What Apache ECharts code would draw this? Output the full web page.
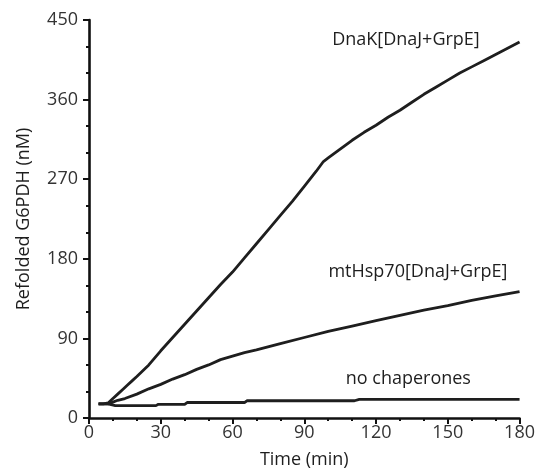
<!DOCTYPE html>
<html>
<head>
<meta charset="utf-8">
<script src="https://cdn.jsdelivr.net/npm/echarts@6/dist/echarts.min.js"></script>
<style>html,body{margin:0;padding:0;background:#fff}#c{width:538px;height:474px}</style>
</head>
<body>
<div id="c"></div>
<script>
// Time (min) and refolded G6PDH (nM) for each condition
const dnakTime = [4,6,8,10,12,14,16,18,20,25,30,35,40,45,50,55,60,65,70,75,80,85,90,95,98,100,105,110,115,120,125,130,135,140,145,150,155,160,165,170,175,180];
const dnakValues = [16,16,17,22,27,32,37,42,47,60,76,91,106,121,136,151,165,181,197,213,229,245,262,279,290,294,304,314,323,331,340,348,357,366,374,382,390,397,404,411,418,425];

const mtHspTime = [4,6,8,10,12,15,20,25,30,35,40,45,50,55,60,65,70,80,90,100,110,120,130,140,150,160,170,180];
const mtHspValues = [16,16,16,18,20,22,27,33,38,44,49,55,60,66,70,74,77,84,91,98,104,110,116,122,127,133,138,143];

const noChapTime = [4,8,11,28,29,40,41,65,66,111,113,180];
const noChapValues = [16,16,14,14,15.5,15.5,17.5,17.5,19.5,19.5,21,21];

const seriesNames = ['DnaK[DnaJ+GrpE]', 'mtHsp70[DnaJ+GrpE]', 'no chaperones'];
// label anchor positions in data units
const labelTime = [132.5, 137.5, 133.5];
const labelValue = [427, 165, 44];

const xTicks = {min: 0, max: 180, interval: 30};
const yTicks = {min: 0, max: 450, interval: 90};

const font = 'Open Sans';
const ink = '#1e1e1e';

function pairs(t, v){ return t.map((x,i)=>[x, v[i]]); }

function mk(name, t, v, idx){
  return {
    name: name,
    type: 'line',
    data: pairs(t, v),
    showSymbol: false,
    smooth: false,
    lineStyle: {color: ink, width: 2.8},
    z: 3,
    markPoint: {
      symbol: 'circle',
      symbolSize: 1,
      itemStyle: {color: 'rgba(0,0,0,0)'},
      label: {show: true, position: 'inside', formatter: name, color: ink, fontSize: 18, fontFamily: font},
      data: [{coord: [labelTime[idx], labelValue[idx]]}]
    }
  };
}

const chart = echarts.init(document.getElementById('c'), null, {renderer: 'canvas'});
chart.setOption({
  animation: false,
  backgroundColor: '#fff',
  grid: {left: 89, right: 18, top: 20, bottom: 54},
  xAxis: {
    type: 'value',
    min: xTicks.min, max: xTicks.max, interval: xTicks.interval,
    name: 'Time (min)', nameLocation: 'middle', nameGap: 33,
    nameTextStyle: {fontSize: 18, color: ink, fontFamily: font},
    axisLine: {lineStyle: {color: '#111', width: 2.6}},
    axisTick: {show: true, length: 6, lineStyle: {color: '#111', width: 2}},
    minorTick: {show: true, splitNumber: 3, length: 3, lineStyle: {color: '#111', width: 2}},
    axisLabel: {fontSize: 18, color: '#333', margin: 6, fontFamily: font},
    splitLine: {show: false}
  },
  yAxis: {
    type: 'value',
    min: yTicks.min, max: yTicks.max, interval: yTicks.interval,
    name: 'Refolded G6PDH (nM)', nameLocation: 'middle', nameGap: 56,
    nameTextStyle: {fontSize: 18, color: ink, fontFamily: font},
    axisLine: {show: true, lineStyle: {color: '#111', width: 2.6}},
    axisTick: {show: true, length: 6, lineStyle: {color: '#111', width: 2}},
    minorTick: {show: true, splitNumber: 3, length: 3, lineStyle: {color: '#111', width: 2}},
    axisLabel: {fontSize: 18, color: '#333', margin: 11, fontFamily: font},
    splitLine: {show: false}
  },
  series: [
    mk(seriesNames[0], dnakTime, dnakValues, 0),
    mk(seriesNames[1], mtHspTime, mtHspValues, 1),
    mk(seriesNames[2], noChapTime, noChapValues, 2)
  ]
});
</script>
</body>
</html>
